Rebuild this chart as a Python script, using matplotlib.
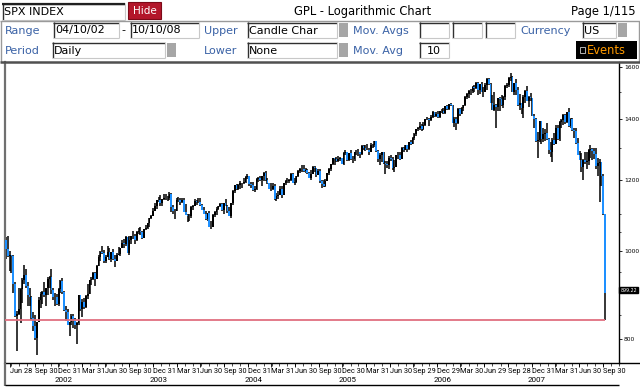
import matplotlib
matplotlib.use("Agg")
import matplotlib.pyplot as plt
import matplotlib.dates as mdates
from matplotlib.patches import Rectangle
from matplotlib.lines import Line2D
import numpy as np
import pandas as pd

# ---------------- header texts ----------------
ticker = "SPX INDEX"
chart_title = "GPL - Logarithmic Chart"
page_text = "Page 1/115"
range_start = "04/10/02"
range_end = "10/10/08"
upper_type = "Candle Char"
lower_type = "None"
period = "Daily"
currency = "US"
mov_avg = "10"

# ---------------- weekly price data ----------------
first_week = "2002-06-14"
first_open = 1030

wk_close = [
    1007, 989, 990, 989, 921, 848, 853, 864, 908, 929, 941, 916, 894, 890, 845, 827, 801, 835, 884, 898,
    901, 895, 910, 931, 936, 907, 890, 890, 875,
    909, 927, 901, 861, 856, 830, 835, 849, 842, 829, 833, 895, 863, 878, 868, 893, 898, 930, 933, 946,
    933, 964, 987, 998, 995, 976, 986, 998, 981, 998, 980, 977, 990, 993, 1008, 1021, 1018, 1037, 997, 1029,
    1039, 1039, 1029, 1051, 1053, 1050, 1035, 1058, 1061, 1074, 1088, 1095,
    1108, 1122, 1140, 1141, 1131, 1142, 1146, 1145, 1145, 1157, 1121, 1109, 1108, 1141, 1139, 1134, 1140, 1107,
    1098, 1095, 1094, 1121, 1123, 1136, 1135, 1134, 1125, 1112, 1101, 1086, 1102, 1064, 1065, 1098, 1107, 1114,
    1124, 1129, 1110, 1131, 1122, 1108, 1095, 1130, 1167, 1185, 1171, 1183, 1192, 1189, 1195, 1210, 1212,
    1186, 1185, 1168, 1171, 1203, 1206, 1201, 1211, 1222, 1200, 1190, 1172, 1173, 1181, 1143, 1152, 1156, 1172,
    1154, 1190, 1198, 1197, 1201, 1217, 1191, 1194, 1212, 1228, 1233, 1234, 1226, 1230, 1220, 1205, 1218, 1241,
    1237, 1215, 1229, 1196, 1186, 1180, 1198, 1220, 1234, 1248, 1268, 1265, 1259, 1267, 1268, 1248,
    1285, 1288, 1261, 1284, 1264, 1267, 1288, 1290, 1288, 1282, 1307, 1302, 1295, 1295, 1289, 1312, 1311, 1326,
    1292, 1267, 1280, 1288, 1253, 1251, 1245, 1270, 1265, 1236, 1240, 1279, 1280, 1266, 1302, 1296, 1311, 1299,
    1321, 1315, 1336, 1350, 1366, 1368, 1377, 1365, 1380, 1401, 1400, 1397, 1410, 1427, 1411, 1418,
    1409, 1431, 1430, 1423, 1449, 1438, 1456, 1451, 1387, 1402, 1386, 1436, 1421, 1443, 1452, 1484, 1494, 1505,
    1505, 1522, 1515, 1536, 1507, 1533, 1502, 1503, 1530, 1553, 1534, 1459, 1433, 1453, 1445, 1479, 1474, 1453,
    1484, 1525, 1527, 1557, 1561, 1501, 1535, 1510, 1453, 1458, 1440, 1481, 1504, 1468, 1484, 1478,
    1411, 1401, 1325, 1330, 1396, 1331, 1349, 1353, 1331, 1294, 1288, 1330, 1316, 1370, 1333, 1390, 1398, 1414,
    1389, 1426, 1375, 1400, 1361, 1360, 1318, 1278, 1262, 1239, 1261, 1257, 1260, 1296, 1298, 1292, 1283, 1242,
    1252, 1255, 1213, 1099, 899,
]

wk_low = [
    981, 985, 952, 946, 900, 846, 776, 850, 833, 876, 920, 912, 870, 870, 840, 817, 798, 768, 835, 866,
    875, 890, 870, 895, 910, 898, 884, 870, 873,
    870, 899, 898, 860, 837, 828, 806, 830, 822, 820, 789, 830, 860, 846, 864, 865, 886, 898, 918, 930,
    916, 932, 963, 975, 993, 972, 970, 985, 978, 973, 978, 960, 975, 990, 988, 1008, 1010, 1013, 995, 990,
    1020, 1033, 1018, 1028, 1045, 1044, 1031, 1035, 1055, 1060, 1065, 1087,
    1095, 1108, 1115, 1135, 1122, 1122, 1139, 1139, 1138, 1140, 1106, 1100, 1087, 1108, 1135, 1125, 1130, 1107,
    1096, 1077, 1080, 1090, 1110, 1123, 1126, 1130, 1123, 1110, 1100, 1083, 1080, 1063, 1060, 1064, 1093, 1098,
    1110, 1120, 1108, 1101, 1122, 1102, 1094, 1090, 1127, 1160, 1170, 1170, 1173, 1175, 1188, 1192, 1204,
    1180, 1175, 1167, 1163, 1170, 1195, 1198, 1180, 1198, 1198, 1186, 1171, 1166, 1170, 1141, 1136, 1143, 1155,
    1146, 1154, 1185, 1189, 1190, 1198, 1190, 1185, 1192, 1210, 1222, 1225, 1224, 1220, 1217, 1205, 1201, 1218,
    1225, 1210, 1214, 1190, 1176, 1177, 1178, 1198, 1215, 1227, 1245, 1246, 1255, 1256, 1259, 1248,
    1246, 1280, 1260, 1260, 1262, 1253, 1260, 1280, 1275, 1268, 1280, 1295, 1292, 1294, 1280, 1287, 1300, 1306,
    1290, 1256, 1245, 1255, 1250, 1219, 1238, 1235, 1260, 1232, 1224, 1240, 1265, 1262, 1266, 1290, 1296, 1290,
    1295, 1310, 1314, 1327, 1343, 1358, 1362, 1360, 1364, 1378, 1398, 1377, 1395, 1405, 1409, 1410,
    1405, 1405, 1424, 1418, 1420, 1435, 1433, 1448, 1387, 1374, 1363, 1385, 1412, 1418, 1432, 1450, 1475, 1480,
    1491, 1498, 1500, 1512, 1490, 1492, 1500, 1484, 1503, 1510, 1530, 1458, 1433, 1430, 1370, 1430, 1432, 1450,
    1440, 1470, 1515, 1520, 1545, 1500, 1490, 1490, 1450, 1435, 1420, 1406, 1460, 1467, 1446, 1468,
    1411, 1370, 1320, 1270, 1322, 1316, 1320, 1325, 1330, 1283, 1273, 1257, 1312, 1315, 1330, 1325, 1370, 1380,
    1384, 1386, 1373, 1370, 1358, 1335, 1316, 1278, 1261, 1225, 1200, 1250, 1234, 1247, 1270, 1261, 1264, 1235,
    1212, 1133, 1180, 1097, 840,
]

wk_high = [
    1038, 1040, 1000, 990, 990, 925, 860, 912, 912, 935, 965, 955, 925, 910, 892, 856, 850, 836, 890, 902,
    905, 925, 912, 938, 940, 955, 912, 899, 898,
    912, 930, 935, 905, 870, 864, 835, 853, 852, 845, 835, 895, 895, 885, 887, 895, 920, 930, 937, 948,
    949, 965, 990, 1000, 1015, 1003, 990, 1015, 1008, 999, 1005, 990, 995, 1012, 1009, 1030, 1033, 1040, 1038, 1040,
    1040, 1053, 1045, 1054, 1062, 1063, 1053, 1060, 1071, 1075, 1090, 1098,
    1118, 1131, 1140, 1150, 1156, 1143, 1158, 1157, 1152, 1163, 1160, 1125, 1115, 1145, 1150, 1147, 1145, 1145,
    1128, 1100, 1100, 1124, 1126, 1142, 1140, 1146, 1145, 1128, 1120, 1108, 1104, 1108, 1080, 1099, 1109, 1120,
    1124, 1130, 1131, 1132, 1142, 1127, 1120, 1130, 1170, 1185, 1188, 1186, 1197, 1192, 1207, 1211, 1218,
    1212, 1195, 1195, 1180, 1205, 1208, 1212, 1212, 1224, 1229, 1206, 1190, 1192, 1191, 1186, 1162, 1165, 1180,
    1180, 1192, 1200, 1206, 1204, 1220, 1222, 1205, 1213, 1230, 1238, 1246, 1245, 1238, 1235, 1225, 1230, 1243,
    1243, 1238, 1233, 1234, 1200, 1200, 1202, 1222, 1237, 1249, 1270, 1270, 1273, 1275, 1271, 1270,
    1290, 1295, 1290, 1286, 1295, 1275, 1290, 1296, 1297, 1290, 1310, 1310, 1310, 1315, 1300, 1318, 1316, 1326,
    1326, 1296, 1285, 1290, 1290, 1260, 1260, 1275, 1280, 1273, 1261, 1280, 1290, 1287, 1305, 1305, 1313, 1312,
    1322, 1328, 1340, 1352, 1366, 1372, 1389, 1382, 1390, 1403, 1407, 1406, 1415, 1431, 1428, 1427,
    1430, 1432, 1438, 1441, 1450, 1453, 1457, 1461, 1452, 1410, 1410, 1440, 1440, 1445, 1453, 1485, 1498, 1510,
    1513, 1523, 1530, 1540, 1540, 1534, 1540, 1520, 1535, 1556, 1556, 1535, 1488, 1503, 1456, 1480, 1481, 1490,
    1485, 1530, 1535, 1560, 1576, 1565, 1536, 1553, 1520, 1492, 1460, 1489, 1510, 1523, 1485, 1498,
    1480, 1420, 1405, 1355, 1396, 1396, 1370, 1365, 1388, 1335, 1320, 1335, 1353, 1380, 1380, 1395, 1400, 1420,
    1420, 1426, 1440, 1406, 1405, 1370, 1371, 1335, 1291, 1285, 1265, 1290, 1290, 1297, 1313, 1300, 1300, 1303,
    1268, 1265, 1256, 1217, 1099,
]

last_low = 839.8
last_price = "899.22"

y_ticks = [800, 1000, 1200, 1400, 1600]
y_minor = [850, 900, 950, 1050, 1100, 1300, 1500]
quarter_ends = ["2002-06-28", "2002-09-30", "2002-12-31", "2003-03-31", "2003-06-30", "2003-09-30",
                "2003-12-31", "2004-03-31", "2004-06-30", "2004-09-30", "2004-12-31", "2005-03-31",
                "2005-06-30", "2005-09-30", "2005-12-30", "2006-03-31", "2006-06-30", "2006-09-29",
                "2006-12-29", "2007-03-30", "2007-06-29", "2007-09-28", "2007-12-31", "2008-03-31",
                "2008-06-30", "2008-09-30"]
year_labels = ["2002", "2003", "2004", "2005", "2006", "2007"]

# ---------------- figure ----------------
W, H = 640, 387
fig = plt.figure(figsize=(6.4, 3.87), dpi=100)
fig.patch.set_facecolor("white")
FONT = "DejaVu Sans"
AXFONT = ["Roboto", "DejaVu Sans"]
LBL = "#3A62A6"


def fx(x):
    return x / W


def fy(y):
    return 1 - y / H


def rect(x0, y0, x1, y1, fc, ec="none", lw=0.8, z=1):
    fig.add_artist(Rectangle((fx(x0), fy(y1)), fx(x1) - fx(x0), fy(y0) - fy(y1),
                             transform=fig.transFigure, facecolor=fc, edgecolor=ec,
                             linewidth=lw, zorder=z))


def line(xs, ys, color, lw, z=3):
    fig.add_artist(Line2D([fx(v) for v in xs], [fy(v) for v in ys],
                          transform=fig.transFigure, color=color, lw=lw, zorder=z,
                          solid_capstyle="butt"))


def text(x, y, s, color="black", size=8, ha="left", **kw):
    fig.text(fx(x), fy(y), s, color=color, fontsize=size, ha=ha, va="center",
             family=FONT, zorder=5, **kw)


def field(x0, x1, y0, y1, s="", ha="left"):
    rect(x0, y0, x1, y1, "white", z=2)
    line([x0, x1], [y0 + 0.5, y0 + 0.5], "#303030", 1.0)
    line([x0 + 0.5, x0 + 0.5], [y0, y1], "#303030", 1.0)
    line([x0, x1], [y1 - 0.5, y1 - 0.5], "#C8C8C8", 0.8)
    line([x1 - 0.5, x1 - 0.5], [y0, y1], "#C8C8C8", 0.8)
    if s:
        if ha == "left":
            text(x0 + 2, (y0 + y1) / 2 + 0.5, s)
        else:
            text((x0 + x1) / 2, (y0 + y1) / 2 + 0.5, s, ha="center")


def grey_sq(x0, x1, y0, y1):
    rect(x0, y0, x1, y1, "#A6A6A6", z=2)


# Row 1
field(2, 125, 3, 20, ticker)
line([2, 125], [3.5, 3.5], "#202020", 1.6)
rect(128, 2, 161, 19, "#B3162A", ec="#7C0A18", lw=0.8, z=2)
text(144.5, 10.5, "Hide", color="white", size=7.5, ha="center")
text(363, 12, chart_title, ha="center", size=8.3)
text(636, 12, page_text, ha="right", size=8.3)

# header frame rows 2-3
line([0, 640], [21, 21], "#9A9A9A", 1.0)
line([1, 1], [21, 62], "#9A9A9A", 1.0)
line([639, 639], [21, 62], "#9A9A9A", 1.0)

# Row 2
r2 = (22, 38)
text(5, 30.5, "Range", color=LBL)
field(53, 119, *r2, range_start)
text(121, 30.5, "-")
field(130, 199, *r2, range_end)
text(204, 30.5, "Upper", color=LBL)
field(247, 337, *r2, upper_type)
grey_sq(339, 348, 23, 37)
text(353, 30.5, "Mov. Avgs", color=LBL)
field(419, 449, *r2)
field(452, 482, *r2)
field(485, 515, *r2)
text(520, 30.5, "Currency", color=LBL)
field(582, 616, *r2, currency)
grey_sq(618, 627, 23, 37)

# Row 3
r3 = (42, 58)
text(5, 50.5, "Period", color=LBL)
field(52, 165, *r3, period)
grey_sq(167, 176, 43, 57)
text(204, 50.5, "Lower", color=LBL)
field(247, 337, *r3, lower_type)
grey_sq(339, 348, 43, 57)
text(353, 50.5, "Mov. Avg", color=LBL)
field(419, 449, *r3, mov_avg, ha="center")
rect(576, 41, 637, 59, "black", z=2)
rect(580, 47, 585, 53, "none", ec="#D0D0D0", lw=0.6, z=3)
text(587, 50.5, "Events", color="#FF9A00", size=8.3)

# ---------------- chart axes ----------------
ax = fig.add_axes([fx(5), fy(363), fx(619) - fx(5), fy(62) - fy(363)])
ax.set_facecolor("white")
ax.set_yscale("log")

weeks = pd.date_range(first_week, periods=len(wk_close), freq="W-FRI")
centers = mdates.date2num(weeks - pd.Timedelta(days=2))
closes = np.array(wk_close, dtype=float)
lows = np.array(wk_low, dtype=float)
highs = np.array(wk_high, dtype=float)
opens = np.r_[first_open, closes[:-1]]
up = closes >= opens

BLUE = "#1E90FF"
ax.vlines(centers, lows, highs, color="black", lw=1.1, zorder=2)
ax.bar(centers, np.abs(closes - opens), bottom=np.minimum(opens, closes), width=6.5,
       color=np.where(up, "black", BLUE), linewidth=0, zorder=3)

x_left = mdates.date2num(pd.Timestamp("2002-06-08"))
x_right = mdates.date2num(pd.Timestamp("2008-12-01"))
ax.set_xlim(x_left, x_right)
ax.set_ylim(752.5, 1620.5)

ax.hlines(last_low, x_left, centers[-1], color="#E07080", lw=1.3, zorder=4)

# y axis on right
ax.yaxis.tick_right()
ax.set_yticks(y_ticks)
ax.set_yticklabels([str(v) for v in y_ticks], fontsize=4.3, family=FONT)
ax.set_yticks(y_minor, minor=True)
ax.set_yticklabels([], minor=True)
ax.tick_params(axis="y", which="major", length=2.5, width=0.6, pad=1, direction="out")
ax.tick_params(axis="y", which="minor", length=1.5, width=0.5, direction="out")

# x axis
qd = pd.to_datetime(quarter_ends)
ax.set_xticks(mdates.date2num(qd))
ax.set_xticklabels([f"{d:%b} {d.day}" for d in qd], fontsize=5.3, ha="left", family=AXFONT)
ax.xaxis.set_minor_locator(mdates.MonthLocator())
ax.tick_params(axis="x", which="major", length=3, width=0.6, pad=0.8, direction="out")
ax.tick_params(axis="x", which="minor", length=2, width=0.5, direction="out")
for y in year_labels:
    ax.text(mdates.date2num(pd.Timestamp(f"{int(y) + 1}-01-20")), -0.057, y,
            transform=ax.get_xaxis_transform(), ha="center", va="center",
            fontsize=5.8, family=AXFONT)

ax.spines["top"].set_visible(False)
ax.spines["left"].set_color("#707070")
ax.spines["left"].set_linewidth(1.6)
ax.spines["right"].set_color("black")
ax.spines["right"].set_linewidth(1.0)
ax.spines["bottom"].set_color("black")
ax.spines["bottom"].set_linewidth(1.0)

# frame lines around chart
line([0, 640], [62, 62], "#505050", 1.8)
line([5, 5], [363, 386], "#707070", 1.6)
line([5, 619], [385, 385], "black", 1.0)
line([619, 640], [363, 363], "black", 1.0)

# last price tag
fig.text(fx(628.5), fy(290), last_price, fontsize=3.4, color="white", ha="center", va="center",
         family=FONT, zorder=6,
         bbox=dict(boxstyle="square,pad=0.15", fc="black", ec="black"))

fig.savefig("out.png", dpi=100)
